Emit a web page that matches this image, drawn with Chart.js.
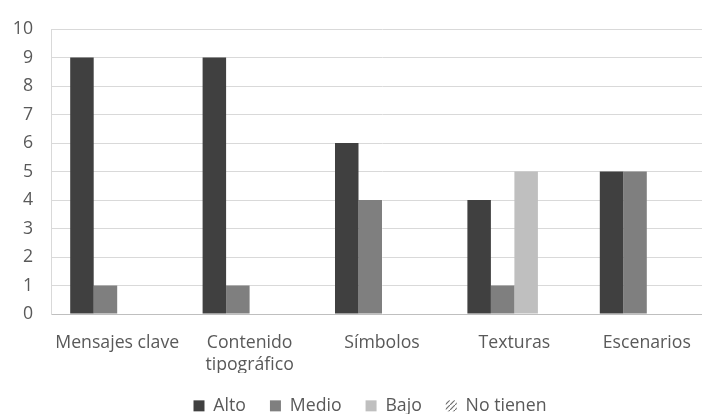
<!DOCTYPE html>
<html>
<head>
<meta charset="utf-8">
<script src="https://cdn.jsdelivr.net/npm/chart.js@4/dist/chart.umd.min.js"></script>
<style>
  html, body { margin: 0; padding: 0; background: #fff; overflow: hidden; }
  #wrap { width: 714px; height: 414px; }
</style>
</head>
<body>
<div id="wrap"><canvas id="c" width="714" height="414"></canvas></div>
<script>
// Categories (multi-line labels as arrays)
const categories = [['Mensajes clave'], ['Contenido', 'tipográfico'], ['Símbolos'], ['Texturas'], ['Escenarios']];
const seriesNames = ['Alto', 'Medio', 'Bajo', 'No tienen'];
const alto = [9, 9, 6, 4, 5];
const medio = [1, 1, 4, 1, 5];
const bajo = [0, 0, 0, 5, 0];
const noTienen = [0, 0, 0, 0, 0];
const yMin = 0, yMax = 10, yStep = 1;

const TEXT = '#595959';
const FONT = { family: '"Open Sans", "Noto Sans", sans-serif', size: 17.7, lineHeight: 1.25 };

// Diagonal hatch used for the "No tienen" series
function hatchPattern() {
  const p = document.createElement('canvas');
  p.width = 5; p.height = 5;
  const g = p.getContext('2d');
  g.fillStyle = '#ffffff';
  g.fillRect(0, 0, 5, 5);
  g.strokeStyle = '#6f6f6f';
  g.lineWidth = 1.2;
  g.beginPath();
  g.moveTo(0, 5); g.lineTo(5, 0);
  g.stroke();
  return g.createPattern(p, 'repeat');
}

const colors = ['#404040', '#7f7f7f', '#bfbfbf', hatchPattern()];
const values = [alto, medio, bajo, noTienen];

// Nudge the legend row a little to the left of the plot centre
const legendShift = {
  id: 'legendShift',
  afterLayout(chart) {
    const lg = chart.legend;
    if (lg) { lg.left -= 12; lg.right -= 12; }
  }
};

new Chart(document.getElementById('c'), {
  type: 'bar',
  data: {
    labels: categories,
    datasets: seriesNames.map((name, i) => ({
      label: name,
      data: values[i],
      backgroundColor: colors[i],
      borderWidth: 0,
      categoryPercentage: 0.71,
      barPercentage: 1.0
    }))
  },
  plugins: [legendShift],
  options: {
    responsive: false,
    animation: false,
    devicePixelRatio: 1,
    layout: { padding: { top: 24, left: 0, right: 1, bottom: 0 } },
    plugins: {
      tooltip: { enabled: false },
      legend: {
        position: 'bottom',
        fullSize: false,
        maxHeight: 41,
        labels: {
          boxWidth: 11,
          boxHeight: 11,
          padding: 24,
          color: TEXT,
          font: FONT
        }
      }
    },
    scales: {
      x: {
        grid: { display: false, drawTicks: false },
        border: { color: '#bfbfbf', width: 1 },
        ticks: { color: TEXT, font: FONT, padding: 18, maxRotation: 0, autoSkip: false },
        afterFit: s => { s.height = 59; }
      },
      y: {
        min: yMin,
        max: yMax,
        grid: { color: '#d9d9d9', drawTicks: false },
        border: { color: '#d9d9d9', width: 1 },
        ticks: { stepSize: yStep, color: TEXT, font: FONT, padding: 18 },
        afterFit: s => { s.width = 51; }
      }
    }
  }
});
</script>
</body>
</html>
